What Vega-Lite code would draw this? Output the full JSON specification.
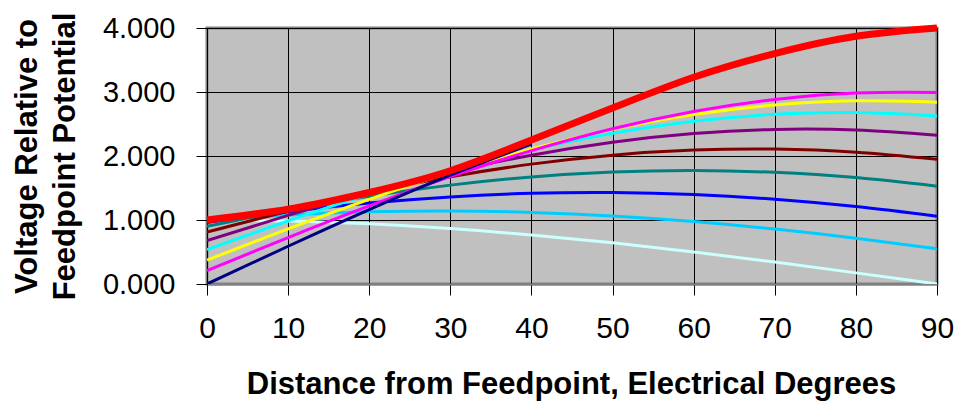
{
  "$schema": "https://vega.github.io/schema/vega-lite/v6.json",
  "width": 730,
  "height": 256,
  "autosize": {"type": "none"},
  "padding": {"left": 207, "top": 28, "right": 21, "bottom": 118},
  "background": "white",
  "config": {
    "view": {"fill": "#C0C0C0", "stroke": "#808080", "strokeWidth": 3},
    "font": "Liberation Sans",
    "axis": {
      "labelFont": "Liberation Sans",
      "titleFont": "Liberation Sans",
      "labelColor": "black",
      "titleColor": "black",
      "tickColor": "black",
      "gridColor": "black",
      "gridWidth": 1,
      "gridOpacity": 1,
      "labelFontSize": 29,
      "titleFontWeight": "bold",
      "tickSize": 11
    }
  },
  "datasets": {
    "curves": [
      {"s": "white", "x": 0, "v": 1.0}, {"s": "white", "x": 10, "v": 0.985}, {"s": "white", "x": 20, "v": 0.94}, {"s": "white", "x": 30, "v": 0.866}, {"s": "white", "x": 40, "v": 0.766}, {"s": "white", "x": 50, "v": 0.643}, {"s": "white", "x": 60, "v": 0.5}, {"s": "white", "x": 70, "v": 0.342}, {"s": "white", "x": 80, "v": 0.174}, {"s": "white", "x": 90, "v": 0.0},
      {"s": "lightblue", "x": 0, "v": 1.0}, {"s": "lightblue", "x": 10, "v": 1.08}, {"s": "lightblue", "x": 20, "v": 1.128}, {"s": "lightblue", "x": 30, "v": 1.141}, {"s": "lightblue", "x": 40, "v": 1.119}, {"s": "lightblue", "x": 50, "v": 1.064}, {"s": "lightblue", "x": 60, "v": 0.976}, {"s": "lightblue", "x": 70, "v": 0.858}, {"s": "lightblue", "x": 80, "v": 0.715}, {"s": "lightblue", "x": 90, "v": 0.55},
      {"s": "blue", "x": 0, "v": 0.961}, {"s": "blue", "x": 10, "v": 1.13}, {"s": "blue", "x": 20, "v": 1.265}, {"s": "blue", "x": 30, "v": 1.361}, {"s": "blue", "x": 40, "v": 1.417}, {"s": "blue", "x": 50, "v": 1.429}, {"s": "blue", "x": 60, "v": 1.398}, {"s": "blue", "x": 70, "v": 1.324}, {"s": "blue", "x": 80, "v": 1.21}, {"s": "blue", "x": 90, "v": 1.059},
      {"s": "teal", "x": 0, "v": 0.901}, {"s": "teal", "x": 10, "v": 1.153}, {"s": "teal", "x": 20, "v": 1.37}, {"s": "teal", "x": 30, "v": 1.545}, {"s": "teal", "x": 40, "v": 1.673}, {"s": "teal", "x": 50, "v": 1.751}, {"s": "teal", "x": 60, "v": 1.775}, {"s": "teal", "x": 70, "v": 1.745}, {"s": "teal", "x": 80, "v": 1.663}, {"s": "teal", "x": 90, "v": 1.529},
      {"s": "darkred", "x": 0, "v": 0.811}, {"s": "darkred", "x": 10, "v": 1.137}, {"s": "darkred", "x": 20, "v": 1.428}, {"s": "darkred", "x": 30, "v": 1.676}, {"s": "darkred", "x": 40, "v": 1.873}, {"s": "darkred", "x": 50, "v": 2.013}, {"s": "darkred", "x": 60, "v": 2.092}, {"s": "darkred", "x": 70, "v": 2.108}, {"s": "darkred", "x": 80, "v": 2.059}, {"s": "darkred", "x": 90, "v": 1.948},
      {"s": "purple", "x": 0, "v": 0.679}, {"s": "purple", "x": 10, "v": 1.072}, {"s": "purple", "x": 20, "v": 1.433}, {"s": "purple", "x": 30, "v": 1.75}, {"s": "purple", "x": 40, "v": 2.013}, {"s": "purple", "x": 50, "v": 2.216}, {"s": "purple", "x": 60, "v": 2.351}, {"s": "purple", "x": 70, "v": 2.415}, {"s": "purple", "x": 80, "v": 2.405}, {"s": "purple", "x": 90, "v": 2.323},
      {"s": "cyan", "x": 0, "v": 0.539}, {"s": "cyan", "x": 10, "v": 0.987}, {"s": "cyan", "x": 20, "v": 1.404}, {"s": "cyan", "x": 30, "v": 1.779}, {"s": "cyan", "x": 40, "v": 2.1}, {"s": "cyan", "x": 50, "v": 2.357}, {"s": "cyan", "x": 60, "v": 2.543}, {"s": "cyan", "x": 70, "v": 2.651}, {"s": "cyan", "x": 80, "v": 2.679}, {"s": "cyan", "x": 90, "v": 2.625},
      {"s": "yellow", "x": 0, "v": 0.374}, {"s": "yellow", "x": 10, "v": 0.862}, {"s": "yellow", "x": 20, "v": 1.323}, {"s": "yellow", "x": 30, "v": 1.744}, {"s": "yellow", "x": 40, "v": 2.112}, {"s": "yellow", "x": 50, "v": 2.416}, {"s": "yellow", "x": 60, "v": 2.647}, {"s": "yellow", "x": 70, "v": 2.797}, {"s": "yellow", "x": 80, "v": 2.862}, {"s": "yellow", "x": 90, "v": 2.84},
      {"s": "magenta", "x": 0, "v": 0.209}, {"s": "magenta", "x": 10, "v": 0.726}, {"s": "magenta", "x": 20, "v": 1.22}, {"s": "magenta", "x": 30, "v": 1.678}, {"s": "magenta", "x": 40, "v": 2.084}, {"s": "magenta", "x": 50, "v": 2.427}, {"s": "magenta", "x": 60, "v": 2.696}, {"s": "magenta", "x": 70, "v": 2.884}, {"s": "magenta", "x": 80, "v": 2.984}, {"s": "magenta", "x": 90, "v": 2.993},
      {"s": "navy", "x": 0, "v": 0.0}, {"s": "navy", "x": 10, "v": 0.59}, {"s": "navy", "x": 20, "v": 1.163}, {"s": "navy", "x": 30, "v": 1.7}, {"s": "navy", "x": 40, "v": 2.185}
    ],
    "red": [
      {"s": "red", "x": 0, "v": 1.0}, {"s": "red", "x": 10, "v": 1.17}, {"s": "red", "x": 20, "v": 1.43}, {"s": "red", "x": 30, "v": 1.77}, {"s": "red", "x": 40, "v": 2.25}, {"s": "red", "x": 50, "v": 2.75}, {"s": "red", "x": 60, "v": 3.23}, {"s": "red", "x": 70, "v": 3.6}, {"s": "red", "x": 80, "v": 3.87}, {"s": "red", "x": 90, "v": 4.0}
    ]
  },
  "encoding": {
    "x": {
      "field": "x", "type": "quantitative",
      "scale": {"domain": [0, 90], "nice": false},
      "axis": {
        "values": [0, 10, 20, 30, 40, 50, 60, 70, 80, 90],
        "title": "Distance from Feedpoint, Electrical Degrees",
        "titleFontSize": 31,
        "labelFontSize": 30,
        "labelPadding": 18,
        "domainColor": "#808080",
        "domainWidth": 2,
        "titleX": 364,
        "titleY": 109,
        "titleBaseline": "alphabetic",
        "titleAnchor": "middle",
        "labelFlush": false,
        "labelOverlap": false
      }
    },
    "y": {
      "field": "v", "type": "quantitative",
      "scale": {"domain": [0, 4], "nice": false},
      "axis": {
        "values": [0, 1, 2, 3, 4],
        "format": ".3f",
        "title": ["Voltage Relative to", "Feedpoint Potential"],
        "titleFontSize": 31,
        "titleLineHeight": 38,
        "titleX": -171,
        "titleY": 128,
        "titleAngle": 270,
        "titleBaseline": "alphabetic",
        "titleAlign": "center",
        "labelPadding": 21,
        "domainColor": "black",
        "domainWidth": 1,
        "labelFlush": false,
        "labelOverlap": false
      }
    }
  },
  "layer": [
    {
      "data": {"name": "curves"},
      "mark": {"type": "line", "strokeWidth": 3, "interpolate": "natural", "clip": true},
      "encoding": {
        "color": {
          "field": "s", "type": "nominal", "legend": null,
          "scale": {
            "domain": ["white", "lightblue", "blue", "teal", "darkred", "purple", "cyan", "yellow", "magenta", "navy"],
            "range": ["#CCFFFF", "#00CCFF", "#0000FF", "#008080", "#800000", "#800080", "#00FFFF", "#FFFF00", "#FF00FF", "#000080"]
          }
        }
      }
    },
    {
      "data": {"name": "red"},
      "mark": {"type": "line", "strokeWidth": 7, "color": "#FF0000", "interpolate": "natural"},
      "encoding": {}
    }
  ]
}
